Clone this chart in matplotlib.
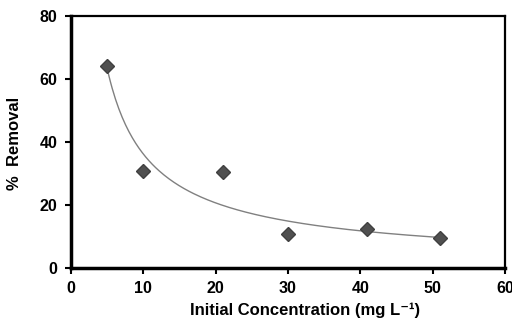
import numpy as np
import matplotlib
matplotlib.use("Agg")
import matplotlib.pyplot as plt

conc = [5, 10, 21, 30, 41, 51]
removal = [64.3, 30.8, 30.6, 10.9, 12.3, 9.4]
xticks = [0, 10, 20, 30, 40, 50, 60]
yticks = [0, 20, 40, 60, 80]

plt.rcParams['font.family'] = ['Liberation Sans', 'DejaVu Sans']
plt.rcParams['font.weight'] = 'bold'

fig = plt.figure(figsize=(5.12, 3.22), dpi=100)
ax = fig.add_axes([0.1387, 0.1677, 0.8473, 0.7823])

# power-law trendline fitted to the data
b, lna = np.polyfit(np.log(conc), np.log(removal), 1)
xf = np.linspace(min(conc), max(conc), 200)
ax.plot(xf, np.exp(lna) * xf ** b, color='#808080', lw=1.0, zorder=2)

ax.plot(conc, removal, linestyle='none', marker='D', markersize=7.5,
        color='#505050', markeredgecolor='#404040', zorder=3)

ax.set_xlim(0, 60)
ax.set_ylim(0, 80)
ax.set_xticks(xticks)
ax.set_yticks(yticks)
ax.tick_params(direction='out', length=4, width=1.5, labelsize=11.5)
ax.tick_params(axis='x', pad=5)
ax.tick_params(axis='y', pad=6)
for s in ['left', 'bottom']:
    ax.spines[s].set_linewidth(2.5)
for s in ['top', 'right']:
    ax.spines[s].set_linewidth(1.6)

fig.text(0.595, 0.036, 'Initial Concentration (mg L\u207b\u00b9)', fontsize=12,
         fontweight='bold', ha='center', va='center')
fig.text(0.029, 0.553, '%  Removal', fontsize=12, fontweight='bold',
         rotation=90, ha='center', va='center')

fig.savefig('out.png', dpi=100)
